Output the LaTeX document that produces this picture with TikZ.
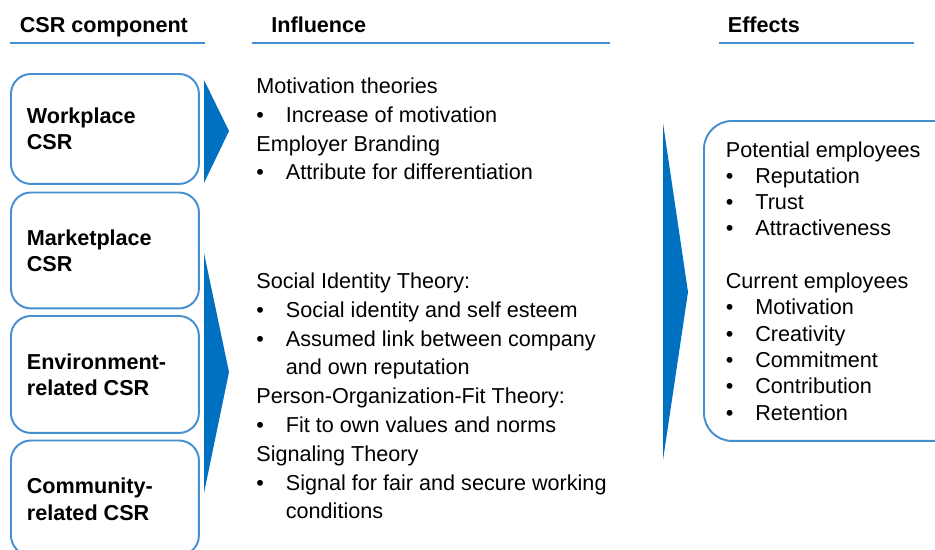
\documentclass[tikz,border=0pt]{standalone}
\usepackage{fontspec}
\setmainfont{Liberation Sans}
\definecolor{csrline}{RGB}{68,142,210}
\definecolor{csrarrow}{RGB}{0,112,192}
\newcommand{\itm}[1]{\makebox[16.8pt][l]{\textbullet}#1}
\newcommand{\itmgap}{\hspace*{16.8pt}}

\begin{document}
\begin{tikzpicture}[x=0.02cm, y=-0.02cm,
	every node/.style={inner sep=0, anchor=base west, font=\fontsize{12.3}{14}\selectfont},
	bold/.style={font=\fontsize{12.3}{14}\selectfont\bfseries},
	csrbox/.style={draw=csrline, line width=1.1pt, rounded corners=0.4cm, anchor=north west}]
\clip (0,0) rectangle (935,549);

% column heads
\foreach \x \y \n \t in {
	19.5/32/hcsr/CSR component%
	,271/32/hinf/Influence%
	,727.5/32/heff/Effects%
}{
	\node[bold](\n) at(\x,\y) {\t};
}
\foreach \a \b in {10/205,252/610,719/914}{
	\draw[csrline, line width=1.1pt] (\a,42.7) -- (\b,42.7);
}

% csr components
\foreach \n \y \h in {wp/73/2.2,mp/191.5/2.32,en/315/2.34,co/439.5/2.3}{
	\node[csrbox, minimum width=3.76cm, minimum height=\h cm](\n) at(10,\y) {};
}
\foreach \n \y \a \b in {
	wp/123.5/Workplace/CSR%
	,mp/245.3/Marketplace/CSR%
	,en/369.3/Environment-/related CSR%
	,co/493.7/Community-/related CSR%
}{
	\node[bold](\n-a) at(26.5,\y) {\a};
	\node[bold](\n-b) at(26.5,{\y+26.4}) {\b};
}

% arrows
\fill[csrarrow] (204,80) -- (229,131) -- (204,183) -- cycle;
\fill[csrarrow] (204,253) -- (229,372) -- (204,493) -- cycle;
\fill[csrarrow] (663,123) -- (688,292) -- (663,460) -- cycle;

% influence
\foreach \y \t [count=\i] in {
	93.5/Motivation theories%
	,122.3/\itm{Increase of motivation}%
	,151.1/Employer Branding%
	,179.9/\itm{Attribute for differentiation}%
	,288.5/Social Identity Theory:%
	,317.3/\itm{Social identity and self esteem}%
	,346.1/\itm{Assumed link between company}%
	,374.9/\itmgap and own reputation%
	,403.7/Person-Organization-Fit Theory:%
	,432.5/\itm{Fit to own values and norms}%
	,461.3/Signaling Theory%
	,490.1/\itm{Signal for fair and secure working}%
	,518.9/\itmgap conditions%
}{
	\node(inf\i) at(256,\y) {\t};
}

% effects
\node[csrbox, rounded corners=0.56cm, minimum width=5.2cm, minimum height=6.4cm](eff) at(703,120) {};
\foreach \y \t [count=\i] in {
	157/Potential employees%
	,183.3/\itm{Reputation}%
	,209.6/\itm{Trust}%
	,235.9/\itm{Attractiveness}%
	,288.5/Current employees%
	,314.8/\itm{Motivation}%
	,341.1/\itm{Creativity}%
	,367.4/\itm{Commitment}%
	,393.7/\itm{Contribution}%
	,420/\itm{Retention}%
}{
	\node(eff\i) at(725.5,\y) {\t};
}
\end{tikzpicture}
\end{document}
